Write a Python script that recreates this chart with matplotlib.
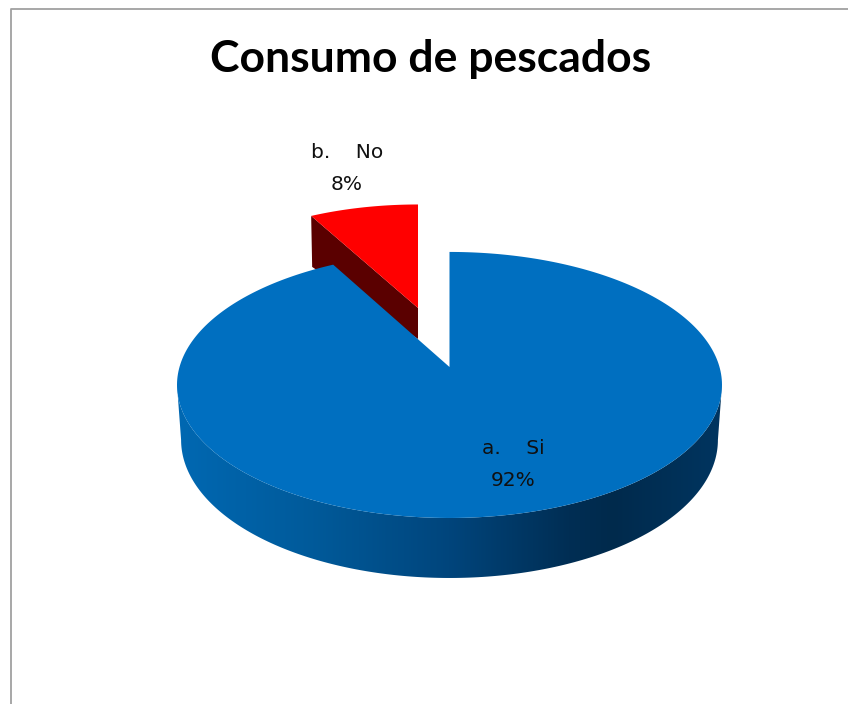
import numpy as np
import matplotlib
matplotlib.use('Agg')
import matplotlib.pyplot as plt
from matplotlib.colors import LinearSegmentedColormap
from matplotlib.patches import Polygon

# Chart data
title = 'Consumo de pescados'
labels = ['a.    Si', 'b.    No']
values = [92, 8]

TILT = 0.135  # perspective of the pie plane


def rim(theta_deg, cx, cy, rx, ry):
    # project angles on the pie circle (clockwise from 12 o'clock) to pixels
    t = np.radians(theta_deg)
    w = 1 + TILT * np.cos(t)
    return cx + rx * np.sin(t) / w, cy - ry * np.cos(t) / w


def lower_rim(x, y, cx):
    # bottom edge of the pie side
    return cx + (x - cx) * 0.985, 385 + (y - 385) * 138 / 133 + 55


fig = plt.figure(figsize=(8.48, 7.04), dpi=100)
ax = fig.add_axes([0, 0, 1, 1])
ax.set_axis_off()

# Chart area border, only top and left are in frame
ax.plot([848, 11, 11], [9, 9, 704], color='#a0a0a0', lw=1.3)

ends = 360 * np.cumsum(values) / sum(values)

# Exploded slice
cx2, cy2, rx2, ry2 = 418, 308, 248, 117.5
th = np.linspace(ends[0], 360, 40)
x, y = rim(th, cx2, cy2, rx2, ry2)
ax.add_patch(Polygon([(x[0], y[0]), (cx2, cy2), (cx2, cy2 + 31), (x[0] + 1, y[0] + 51)],
                     fc='#5a0000', ec='none'))
ax.add_patch(Polygon(np.vstack([[cx2, cy2], np.column_stack([x, y])]), fc='#ff0000', ec='none'))

# Side of the main slice, shaded across its width
cx, cy, rx, ry = 449.5, 367, 270, 130.6
front = np.degrees(np.arccos(-TILT))
th = np.linspace(front, 360 - front, 200)
x, y = rim(th, cx, cy, rx, ry)
xl, yl = lower_rim(x, y, cx)
band = Polygon(np.vstack([np.column_stack([x, y]), np.column_stack([xl, yl])[::-1]]),
               fc='none', ec='none')
ax.add_patch(band)
shade = LinearSegmentedColormap.from_list('side', [
    (0.00, '#0068b2'), (0.25, '#005a9a'), (0.50, '#00457c'),
    (0.72, '#002e54'), (0.80, '#002a4c'), (1.00, '#003560')])
grad = ax.imshow(np.linspace(0, 1, 256)[None, :], cmap=shade, aspect='auto',
                 extent=[x.min(), x.max(), yl.max(), y.min()], zorder=1)
grad.set_clip_path(band)

# Top of the main slice
th = np.linspace(0, ends[0], 300)
x, y = rim(th, cx, cy, rx, ry)
ax.add_patch(Polygon(np.vstack([[cx, cy], np.column_stack([x, y])]),
                     fc='#006fc0', ec='none', zorder=2))

ax.set_xlim(0, 848)
ax.set_ylim(704, 0)

# Text
ax.text(431, 59, title, ha='center', va='center', fontsize=32,
        fontweight='bold', family='Lato', color='black')
font = dict(ha='center', va='center', fontsize=14.5, family='DejaVu Sans', color='#101010', zorder=3)
ax.text(513, 448, labels[0], **font)
ax.text(513, 480, f'{values[0]}%', **font)
ax.text(347, 152, labels[1], **font)
ax.text(347, 184, f'{values[1]}%', **font)

fig.savefig('out.png', dpi=100)
